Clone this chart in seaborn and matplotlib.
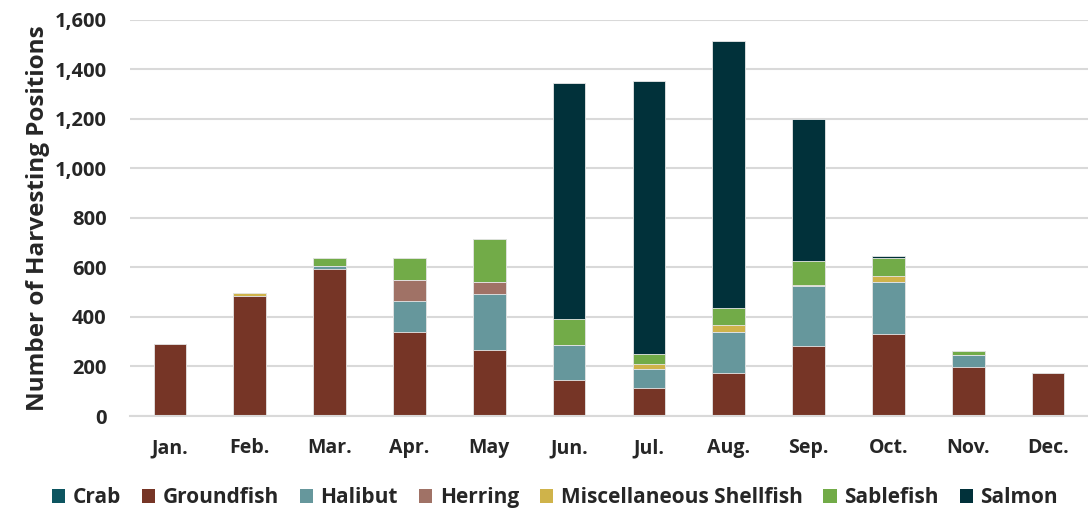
import numpy as np
import pandas as pd
import matplotlib
matplotlib.use("Agg")
import matplotlib.pyplot as plt
import seaborn as sns
from matplotlib.patches import Patch
from matplotlib.ticker import FuncFormatter, FixedLocator

months = ["Jan.", "Feb.", "Mar.", "Apr.", "May", "Jun.", "Jul.", "Aug.", "Sep.", "Oct.", "Nov.", "Dec."]
series = ["Crab", "Groundfish", "Halibut", "Herring", "Miscellaneous Shellfish", "Sablefish", "Salmon"]
crab = [0, 0, 0, 2, 2, 0, 0, 0, 0, 0, 0, 0]
groundfish = [292, 486, 595, 336, 264, 147, 114, 175, 284, 331, 198, 172]
halibut = [0, 0, 12, 128, 226, 139, 77, 166, 242, 212, 48, 0]
herring = [0, 0, 0, 85, 49, 0, 0, 0, 0, 0, 0, 0]
misc_shellfish = [0, 10, 0, 0, 0, 0, 19, 27, 2, 23, 0, 3]
sablefish = [0, 0, 31, 87, 176, 106, 42, 68, 99, 72, 18, 0]
salmon = [0, 0, 0, 0, 0, 952, 1100, 1078, 573, 8, 0, 0]
colors = ["#0d5560", "#763526", "#66979c", "#a07266", "#cfb34a", "#72ab48", "#01313a"]

values = [crab, groundfish, halibut, herring, misc_shellfish, sablefish, salmon]
df = pd.DataFrame({s: v for s, v in zip(series, values)}, index=months)
cum = df.cumsum(axis=1)

sns.set_theme(style="white")
plt.rcParams['font.family'] = ['Open Sans', 'DejaVu Sans']
plt.rcParams['font.weight'] = 'bold'

fig = plt.figure(figsize=(10.88, 5.12), dpi=100)
ax = fig.add_axes([0.1195, 0.1875, 0.8805, 0.7735])

# Draw cumulative totals from top layer down so they stack visually
for s, c in reversed(list(zip(series, colors))):
    d = pd.DataFrame({"month": months, "value": cum[s].values})
    sns.barplot(data=d, x="month", y="value", color=c, width=0.41,
                edgecolor="#e8e8e8", linewidth=0.6, saturation=1, ax=ax, order=months)

ax.set_ylim(0, 1600)
ax.set_xlim(-0.5, 11.5)
ax.set_yticks(np.arange(0, 1601, 200))
ax.yaxis.set_major_formatter(FuncFormatter(lambda v, p: f"{int(v):,}"))
ax.yaxis.grid(True, color="#d9d9d9", linewidth=1.5)
ax.set_axisbelow(True)
ax.tick_params(axis="y", length=0, labelsize=14.5, pad=17)
ax.tick_params(axis="x", which="major", length=0, labelsize=14, pad=16)
ax.xaxis.set_minor_locator(FixedLocator(np.arange(-0.5, 12, 1)))
ax.tick_params(axis="x", which="minor", length=7, width=1, color="#d9d9d9", direction="out")
for lab in ax.get_xticklabels() + ax.get_yticklabels():
    lab.set_fontweight("bold")
ax.set_xlabel("")
ax.set_ylabel("Number of Harvesting Positions", fontsize=17.5, fontweight="bold", labelpad=3)
for sp in ["left", "right", "top"]:
    ax.spines[sp].set_visible(False)
ax.spines["bottom"].set_color("#d9d9d9")
ax.spines["bottom"].set_linewidth(1.5)

handles = [Patch(facecolor=c, edgecolor="none") for c in colors]
fig.legend(handles, series, loc="center", bbox_to_anchor=(0.51, 0.028), ncol=7,
           frameon=False, handlelength=0.65, handleheight=0.65,
           handletextpad=0.35, columnspacing=1.0, prop={"weight": "bold", "size": 15})

fig.savefig("out.png", dpi=100)
